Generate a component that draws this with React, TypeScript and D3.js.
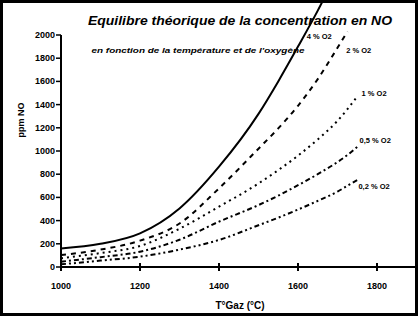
import React from "react";
import * as d3 from "d3";

const temps = [1000, 1100, 1200, 1300, 1400, 1500, 1550, 1600, 1650, 1700, 1725, 1750];
const seriesNames = ["4 % O2", "2 % O2", "1 % O2", "0,5 % O2", "0,2 % O2"];
const s4 = [160, 200, 290, 505, 865, 1320, 1600, 1900, 2210, 2550, null, null];
const s2 = [103, 150, 227, 375, 678, 1020, 1195, 1390, 1620, 1890, 2030, null];
const s1 = [75, 120, 181, 330, 520, 720, 835, 960, 1100, 1260, 1360, 1470];
const s05 = [46, 85, 132, 235, 391, 534, 615, 705, 800, 905, 965, 1035];
const s02 = [23, 55, 89, 150, 233, 360, 425, 495, 570, 650, 700, 750];
const labelT = [1622, 1722, 1761, 1756, 1753];
const labelV = [1966, 1845, 1474, 1069, 672];
const dashes = ["none", "5,5", "2,4", "5,3,2,3", "5,3,2,3,2,3"];
const xTicks = [1000, 1200, 1400, 1600, 1800];
const yTicks = [0, 200, 400, 600, 800, 1000, 1200, 1400, 1600, 1800, 2000];
const title = "Equilibre théorique de la concentration en NO";
const subtitle = "en fonction de la température et de l'oxygène";
const xTitle = "T°Gaz (°C)";
const yTitle = "ppm NO";

export default function App() {
  const W = 420, H = 319;
  const x = d3.scaleLinear().domain([1000, 1800]).range([61, 377]);
  const y = d3.scaleLinear().domain([0, 2000]).range([267, 35]);
  const all = [s4, s2, s1, s05, s02];
  const line = d3
    .line<[number, number | null]>()
    .defined((d) => d[1] != null)
    .x((d) => x(d[0]))
    .y((d) => y(d[1] as number))
    .curve(d3.curveMonotoneX);
  const font = "'Liberation Sans', Arial, sans-serif";
  return (
    <svg width={W} height={H} style={{ position: "absolute", left: 0, top: 0, background: "#fff" }}>
      <defs>
        <clipPath id="clipf">
          <rect x={3} y={3} width={412} height={310} />
        </clipPath>
      </defs>
      <rect x={1.5} y={1.5} width={415} height={313} fill="#fff" stroke="#000" strokeWidth={3} />
      <text x={240} y={25} textAnchor="middle" fontFamily={font} fontWeight="bold" fontStyle="italic" fontSize={12.5} textLength={304} lengthAdjust="spacingAndGlyphs">{title}</text>
      <text x={198} y={53} textAnchor="middle" fontFamily={font} fontWeight="bold" fontStyle="italic" fontSize={7.5} textLength={213} lengthAdjust="spacingAndGlyphs">{subtitle}</text>
      <g clipPath="url(#clipf)">
        {all.map((s, i) => (
          <path
            key={i}
            d={line(temps.map((t, j) => [t, s[j]]) as [number, number | null][]) || ""}
            fill="none"
            stroke="#000"
            strokeWidth={2}
            strokeDasharray={dashes[i]}
          />
        ))}
      </g>
      {seriesNames.map((n, i) => (
        <text key={n} x={x(labelT[i])} y={y(labelV[i])} fontFamily={font} fontWeight="bold" fontSize={7.5}>{n}</text>
      ))}
      <line x1={x(1000)} x2={416} y1={y(0)} y2={y(0)} stroke="#000" strokeWidth={2} />
      <line x1={x(1000)} x2={x(1000)} y1={y(0)} y2={y(2000)} stroke="#000" strokeWidth={2} />
      {xTicks.map((t) => (
        <g key={t}>
          <line x1={x(t)} x2={x(t)} y1={y(0) - 4} y2={y(0) + 4} stroke="#000" strokeWidth={2} />
          <text x={x(t)} y={289} textAnchor="middle" fontFamily={font} fontWeight="bold" fontSize={9}>{t}</text>
        </g>
      ))}
      {yTicks.map((v) => (
        <g key={v}>
          <line x1={x(1000) - 5} x2={x(1000)} y1={y(v)} y2={y(v)} stroke="#000" strokeWidth={1.5} />
          <text x={55} y={y(v) + 3} textAnchor="end" fontFamily={font} fontWeight="bold" fontSize={9}>{v}</text>
        </g>
      ))}
      <text x={240} y={309} textAnchor="middle" fontFamily={font} fontWeight="bold" fontSize={10}>{xTitle}</text>
      <text transform="translate(24,120) rotate(-90)" textAnchor="middle" fontFamily={font} fontWeight="bold" fontSize={9}>{yTitle}</text>
    </svg>
  );
}
